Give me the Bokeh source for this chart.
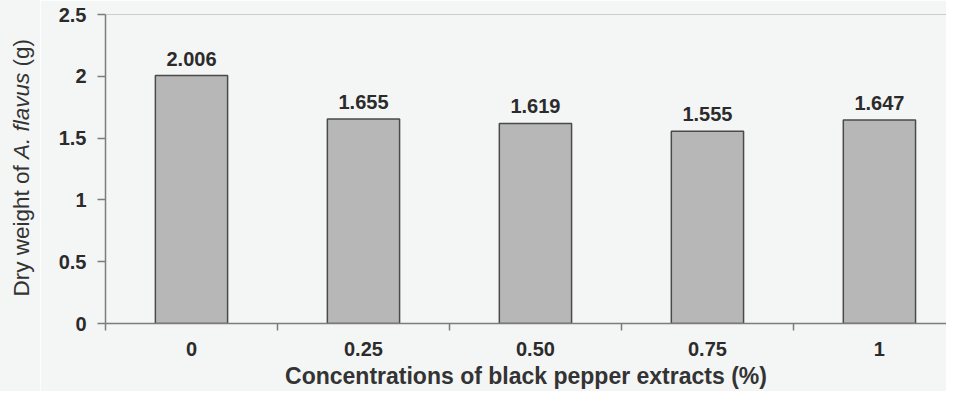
from bokeh.plotting import figure
from bokeh.layouts import row
from bokeh.models import ColumnDataSource, Range1d, FixedTicker, Span, Div
from bokeh.core.properties import value
from bokeh.embed import file_html
from bokeh.resources import INLINE

# ---- data ----
categories = ["0", "0.25", "0.50", "0.75", "1"]
dry_weight = [2.006, 1.655, 1.619, 1.555, 1.647]
value_labels = ["2.006", "1.655", "1.619", "1.555", "1.647"]
y_ticks = [0.0, 0.5, 1.0, 1.5, 2.0, 2.5]
y_tick_labels = ["0", "0.5", "1", "1.5", "2", "2.5"]
x_title = "Concentrations of black pepper extracts (%)"
y_title_html = "Dry weight of <i>A. flavus</i> (g)"

FONT = "Liberation Sans"
BG = "#f4f5f5"
TXT = "#2b2b2b"
AX = "#7c7c7c"

# ---- layout ----
W, H = 946, 391
DIV_W = 40
FRAME_L, FRAME_T, FRAME_B = 105, 14, 323
X_END = 4.89
Y_END = 2.5

xpos = [i + 0.5 for i in range(len(categories))]
boundaries = [float(i) for i in range(len(categories) + 1)]
src = ColumnDataSource(dict(x=xpos, y=dry_weight, lab=value_labels))

p = figure(width=W - DIV_W, height=H, output_backend="svg", toolbar_location=None,
           x_range=Range1d(0, X_END), y_range=Range1d(0, Y_END),
           min_border_left=FRAME_L - DIV_W, min_border_right=0,
           min_border_top=FRAME_T, min_border_bottom=H - FRAME_B)
p.background_fill_color = BG
p.border_fill_color = BG
p.outline_line_color = None
p.xgrid.visible = False
p.ygrid.visible = False

p.vbar(x="x", top="y", bottom=0, width=0.42, source=src,
       fill_color="#b7b7b7", line_color="#4a4a4a", line_width=1.5)

p.text(x="x", y="y", text="lab", source=src, text_align="center",
       text_baseline="bottom", y_offset=-10, text_font=value(FONT),
       text_font_style="bold", text_font_size="20px", text_color=TXT)

p.add_layout(Span(location=Y_END, dimension="width", line_color="#a0a0a0",
                  line_width=1))

# x axis
xa = p.xaxis[0]
xa.ticker = FixedTicker(ticks=xpos, minor_ticks=boundaries)
xa.major_label_overrides = {x: c for x, c in zip(xpos, categories)}
xa.major_tick_out = 0
xa.major_tick_in = 0
xa.minor_tick_out = 7
xa.minor_tick_in = 0
xa.minor_tick_line_color = AX
xa.minor_tick_line_width = 1.5
xa.axis_line_color = AX
xa.axis_line_width = 1.5
xa.major_label_standoff = 11
xa.major_label_text_font = FONT
xa.major_label_text_font_style = "bold"
xa.major_label_text_font_size = "20px"
xa.major_label_text_color = TXT
xa.axis_label = x_title
xa.axis_label_text_font = FONT
xa.axis_label_text_font_style = "bold"
xa.axis_label_text_font_size = "23px"
xa.axis_label_text_color = "#333333"
xa.axis_label_standoff = 4

# y axis
ya = p.yaxis[0]
ya.ticker = FixedTicker(ticks=y_ticks, minor_ticks=[])
ya.major_label_overrides = {t: s for t, s in zip(y_ticks, y_tick_labels)}
ya.major_tick_out = 8
ya.major_tick_in = 0
ya.major_tick_line_color = AX
ya.major_tick_line_width = 1.5
ya.minor_tick_out = 0
ya.minor_tick_in = 0
ya.axis_line_color = AX
ya.axis_line_width = 1.5
ya.major_label_standoff = 11
ya.major_label_text_font = FONT
ya.major_label_text_font_style = "bold"
ya.major_label_text_font_size = "20px"
ya.major_label_text_color = TXT

# y title with italic species name (rotated HTML text)
center_y = 168
pad_bottom = H - 2 * center_y
title_div = Div(
    text=(f'<div style="box-sizing:border-box;width:{DIV_W}px;height:{H}px;'
          f'background-color:{BG};'
          f'padding-bottom:{pad_bottom}px;padding-left:4px;display:flex;'
          f'align-items:center;justify-content:center;">'
          f'<span style="writing-mode:vertical-rl;transform:rotate(180deg);'
          f"font-family:'{FONT}';font-size:22.5px;color:#333333;"
          f'white-space:nowrap;line-height:1;">{y_title_html}</span></div>'),
    width=DIV_W, height=H, margin=0,
    styles={"background-color": BG})

layout = row(title_div, p, spacing=0)

open("out.html", "w").write(file_html(layout, INLINE))
